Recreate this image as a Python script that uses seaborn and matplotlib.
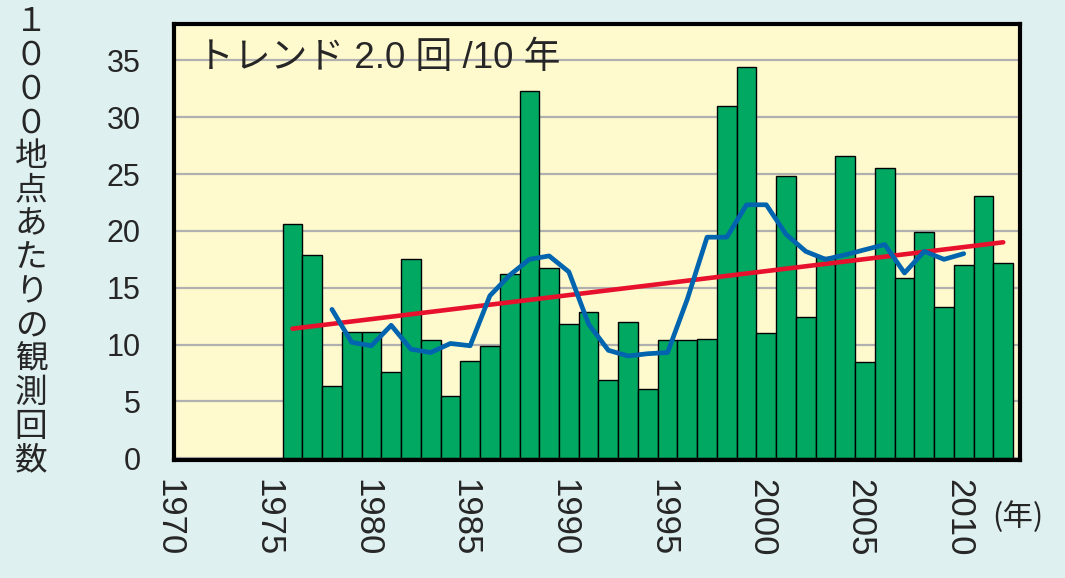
import numpy as np
import pandas as pd
import matplotlib.pyplot as plt
import matplotlib.transforms as mtransforms
import seaborn as sns

# Data
years = list(range(1976, 2013))
counts = [20.6, 17.9, 6.4, 11.1, 11.1, 7.6, 17.5, 10.4, 5.5, 8.6,
          9.9, 16.2, 32.3, 16.7, 11.8, 12.9, 6.9, 12.0, 6.1, 10.4,
          10.4, 10.5, 31.0, 34.4, 11.0, 24.8, 12.4, 17.7, 26.6, 8.5,
          25.5, 15.9, 19.9, 13.3, 17.0, 23.1, 17.2]

# 5-year running mean (blue)
smooth_years = list(range(1978, 2011))
smooth_counts = [13.1, 10.2, 9.9, 11.7, 9.6, 9.3, 10.1, 9.9, 14.3, 16.1,
                 17.5, 17.8, 16.4, 11.8, 9.5, 9.0, 9.2, 9.3, 14.0, 19.45,
                 19.45, 22.3, 22.3, 19.7, 18.2, 17.5, 17.9, 18.35, 18.8, 16.3,
                 18.2, 17.5, 18.0]

# linear trend (red)
trend_years = [1976, 2012]
trend_counts = [11.4, 19.0]

year_ticks = [1970, 1975, 1980, 1985, 1990, 1995, 2000, 2005, 2010]
count_ticks = [0, 5, 10, 15, 20, 25, 30, 35]

title_text = "トレンド 2.0 回 /10 年"
ylabel_text = "１０００地点あたりの観測回数"
unit_text = "(年)"

BG = "#dff0f0"
PANEL = "#fffacd"
GREEN = "#00a862"
BLUE = "#0064af"
RED = "#e8112d"
GRID = "#b0b0b0"

NUM_FONT = ["Liberation Sans", "Noto Sans CJK JP"]
JP_FONT = ["Noto Sans CJK JP", "DejaVu Sans"]

sns.set_style("white")
plt.rcParams["font.family"] = NUM_FONT

fig = plt.figure(figsize=(10.65, 5.78), dpi=100, facecolor=BG)
ax = fig.add_axes([174 / 1065, 1 - 460 / 578, 846 / 1065, 436 / 578])
ax.set_facecolor(PANEL)

# Bars
sns.barplot(x=years, y=counts, native_scale=True, width=1.0, color=GREEN,
            saturation=1, edgecolor="black", linewidth=1.0, ax=ax, zorder=2)

# Trend and running mean
sns.lineplot(x=trend_years, y=trend_counts, color=RED, linewidth=3.3,
             ax=ax, zorder=3)
sns.lineplot(x=smooth_years, y=smooth_counts, color=BLUE, linewidth=3.4,
             ax=ax, zorder=4)

ax.set_xlim(1970.22, 2012.85)
ax.set_ylim(-0.15, 38.2)

ax.set_axisbelow(True)
ax.yaxis.grid(True, color=GRID, linewidth=1.6)
ax.xaxis.grid(False)

ax.set_yticks(count_ticks)
ax.set_yticklabels([str(t) for t in count_ticks], fontsize=22)
ax.set_xticks(year_ticks)
ax.set_xticklabels([str(t) for t in year_ticks], fontsize=25, rotation=270,
                   ha="center", va="top")
ax.tick_params(axis="y", length=0, pad=24)
ax.tick_params(axis="x", length=0, pad=14)
ax.set_xlabel("")
ax.set_ylabel("")

# nudge the rotated year labels to sit centred under their years
shift = mtransforms.ScaledTranslation(-5 / 100, 0, fig.dpi_scale_trans)
for lbl in ax.get_xticklabels():
    lbl.set_transform(lbl.get_transform() + shift)

for sp in ax.spines.values():
    sp.set_visible(True)
    sp.set_color("black")
    sp.set_linewidth(3.0)
    sp.set_zorder(5)

ax.text(0.027, 0.92, title_text, transform=ax.transAxes, fontsize=26.5,
        ha="left", va="center", family=NUM_FONT, zorder=6)

fig.text(31 / 1065, 1 - 6 / 578, "\n".join(ylabel_text), ha="center",
         va="top", fontsize=23.5, family=JP_FONT, linespacing=1.07)
fig.text(1018 / 1065, 1 - 517 / 578, unit_text, ha="center", va="center",
         fontsize=22, family=JP_FONT)

fig.savefig("out.png", dpi=100, facecolor=BG)
plt.close(fig)
